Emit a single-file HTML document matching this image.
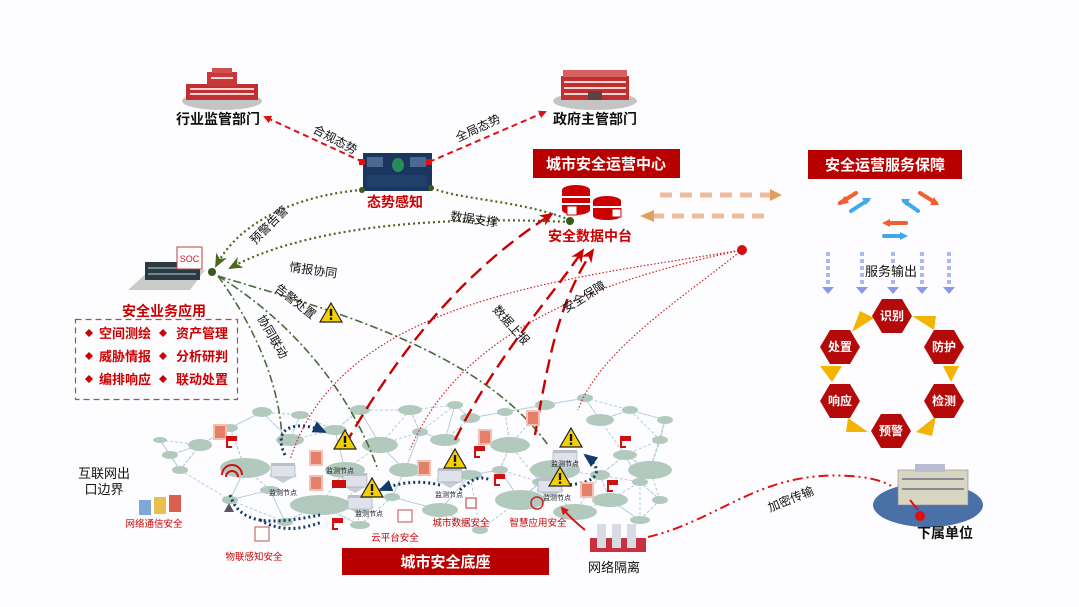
<!DOCTYPE html>
<html><head><meta charset="utf-8"><style>
html,body{margin:0;padding:0;background:#fdfdff;}
svg{display:block;font-family:"Liberation Sans","Noto Sans CJK SC",sans-serif;}
.b{font-weight:bold}
</style></head><body>
<svg id="s" width="1079" height="607" viewBox="0 0 1079 607" xmlns="http://www.w3.org/2000/svg">
<defs>
<marker id="ar" markerWidth="8" markerHeight="8" refX="6" refY="4" orient="auto" markerUnits="userSpaceOnUse"><path d="M0,0 L8,4 L0,8 Z" fill="#e01010"/></marker>
<marker id="arR" markerWidth="14" markerHeight="12" refX="12" refY="6" orient="auto" markerUnits="userSpaceOnUse"><path d="M0,0 L14,6 L0,12 L4,6 Z" fill="#c00"/></marker>
<marker id="arG" markerWidth="14" markerHeight="12" refX="12" refY="6" orient="auto" markerUnits="userSpaceOnUse"><path d="M0,0 L14,6 L0,12 L4,6 Z" fill="#4a6a1a"/></marker>
<marker id="arN" markerWidth="14" markerHeight="12" refX="12" refY="6" orient="auto" markerUnits="userSpaceOnUse"><path d="M0,0 L14,6 L0,12 Z" fill="#123a6a"/></marker>
<g id="warn"><path d="M0,-10 L11,9 L-11,9 Z" fill="#f5d000" stroke="#222" stroke-width="1.2"/><rect x="-1.2" y="-4" width="2.4" height="7" fill="#111"/><rect x="-1.2" y="4.5" width="2.4" height="2.4" fill="#111"/></g>
<g id="fw"><rect x="-6" y="-7" width="12" height="14" fill="#e4806a" stroke="#f4c0b0" stroke-width="2"/></g>
<g id="cam"><rect x="-6" y="-4" width="11" height="5" fill="#d01010"/><rect x="-6" y="1" width="2" height="6" fill="#d01010"/><rect x="-6" y="6" width="6" height="2" fill="#d01010"/></g>
<g id="bld"><path d="M-14,0 L0,-8 L14,0 L0,8 Z" fill="#c8ccd6"/><rect x="-12" y="-10" width="24" height="12" fill="#dfe2ea" stroke="#9aa" stroke-width="0.6"/><rect x="-12" y="-12" width="24" height="3" fill="#b9bfcc"/></g>
<g id="hex"><path d="M-20,0 L-10,-17 L10,-17 L20,0 L10,17 L-10,17 Z" fill="#b50a0a"/></g>
</defs>

<g id="net" stroke="#b4cce0" stroke-width="1" stroke-dasharray="3,2" fill="none"></g>
<g id="nodes" fill="#b2cabe"></g>

<!-- top buildings -->
<g>
<ellipse cx="222" cy="101" rx="40" ry="9" fill="#c4c4c4"/>
<rect x="186" y="84" width="72" height="16" fill="#c03030"/><rect x="207" y="72" width="30" height="14" fill="#c83838"/>
<rect x="212" y="68" width="20" height="5" fill="#d05050"/>
<g fill="#f4d4d4"><rect x="190" y="88" width="64" height="2"/><rect x="190" y="93" width="64" height="2"/><rect x="211" y="77" width="22" height="2"/></g>
<ellipse cx="595" cy="101" rx="42" ry="9" fill="#c4c4c4"/>
<rect x="561" y="76" width="68" height="24" fill="#c03030"/><rect x="563" y="70" width="64" height="7" fill="#d86060"/>
<g fill="#f4d4d4"><rect x="564" y="81" width="62" height="2"/><rect x="564" y="87" width="62" height="2"/><rect x="564" y="93" width="62" height="2"/></g>
<rect x="588" y="91" width="14" height="9" fill="#604040"/>
<text x="218" y="124" font-size="14" class="b" text-anchor="middle" fill="#111">行业监管部门</text>
<text x="595" y="124" font-size="14" class="b" text-anchor="middle" fill="#111">政府主管部门</text>
</g>

<rect x="363" y="153" width="69" height="38" fill="#1a3560"/>
<rect x="367" y="157" width="16" height="10" fill="#4a6a90"/><rect x="410" y="157" width="16" height="10" fill="#4a6a90"/>
<ellipse cx="398" cy="165" rx="6" ry="7" fill="#2a8a5a"/>
<rect x="367" y="175" width="60" height="12" fill="#20406a"/>
<text x="395" y="207" font-size="14" class="b" text-anchor="middle" fill="#c00">态势感知</text>

<path d="M363,162 L265,117" stroke="#e01010" stroke-width="2" stroke-dasharray="6,4" fill="none" marker-end="url(#ar)"/>
<path d="M429,162 L545,112" stroke="#e01010" stroke-width="2" stroke-dasharray="6,4" fill="none" marker-end="url(#ar)"/>
<rect x="359" y="159" width="6" height="6" fill="#e01010"/><rect x="426" y="159" width="6" height="6" fill="#e01010"/>
<text transform="translate(312,132) rotate(28)" font-size="12" fill="#111">合规态势</text>
<text transform="translate(458,142) rotate(-25)" font-size="12" fill="#111">全局态势</text>

<rect x="533" y="149" width="147" height="29" fill="#b80000"/>
<text x="606" y="169" font-size="15" class="b" text-anchor="middle" fill="#fff">城市安全运营中心</text>
<g fill="#c00">
<ellipse cx="576" cy="190" rx="14" ry="5"/><rect x="562" y="190" width="28" height="20"/><ellipse cx="576" cy="210" rx="14" ry="5"/>
<rect x="562" y="196" width="28" height="2" fill="#fff"/><rect x="562" y="203" width="28" height="2" fill="#fff"/>
<ellipse cx="607" cy="201" rx="14" ry="5"/><rect x="593" y="201" width="28" height="15"/><ellipse cx="607" cy="216" rx="14" ry="4"/>
<rect x="593" y="206" width="28" height="2" fill="#fff"/>
</g>
<rect x="567" y="206" width="10" height="9" fill="#fff" stroke="#c00"/><rect x="612" y="209" width="9" height="8" fill="#fff" stroke="#c00"/>
<text x="590" y="241" font-size="14" class="b" text-anchor="middle" fill="#c00">安全数据中台</text>

<path d="M660,195 L770,195" stroke="#e8a070" stroke-width="5" stroke-dasharray="12,8" fill="none" opacity="0.7"/>
<path d="M770,189 L782,195 L770,201 Z" fill="#e0a060"/>
<path d="M652,216 L768,216" stroke="#e8a070" stroke-width="5" stroke-dasharray="12,8" fill="none" opacity="0.7"/>
<path d="M654,210 L640,216 L654,222 Z" fill="#e0a060"/>

<rect x="808" y="150" width="154" height="29" fill="#b80000"/>
<text x="885" y="170" font-size="15" class="b" text-anchor="middle" fill="#fff">安全运营服务保障</text>
<g stroke-width="4" fill="none" stroke-linecap="round">
<path d="M856,193 L840,203" stroke="#f06030"/><path d="M837,205 L845,196 L849,203Z" fill="#f06030" stroke="none"/>
<path d="M851,211 L868,200" stroke="#40a8e8"/><path d="M871,198 L862,198 L866,205Z" fill="#40a8e8" stroke="none"/>
<path d="M918,211 L904,201" stroke="#40a8e8"/><path d="M901,199 L910,199 L906,206Z" fill="#40a8e8" stroke="none"/>
<path d="M920,193 L936,203" stroke="#f06030"/><path d="M939,205 L930,205 L934,197Z" fill="#f06030" stroke="none"/>
<path d="M906,223 L888,223" stroke="#f06030"/><path d="M882,223 L890,219 L890,227Z" fill="#f06030" stroke="none"/>
<path d="M884,236 L902,236" stroke="#40a8e8"/><path d="M908,236 L900,232 L900,240Z" fill="#40a8e8" stroke="none"/>
</g>
<g stroke="#a8b8f0" stroke-width="4" stroke-dasharray="4,3">
<path d="M828,252 V288"/><path d="M862,252 V288"/><path d="M893,252 V288"/><path d="M922,252 V288"/><path d="M949,252 V288"/>
</g>
<g fill="#8898e8"><path d="M822,287 h12 l-6,7z"/><path d="M856,287 h12 l-6,7z"/><path d="M887,287 h12 l-6,7z"/><path d="M916,287 h12 l-6,7z"/><path d="M943,287 h12 l-6,7z"/></g>
<rect x="864" y="263" width="56" height="16" fill="#fdfdff"/>
<text x="891" y="276" font-size="13" text-anchor="middle" fill="#111">服务输出</text>

<g fill="#f3b400">
<path d="M852,332 L874,318 L860,311 Z"/><path d="M912,316 L934,330 L936,316 Z"/>
<path d="M943,366 L959,366 L951,382 Z"/><path d="M936,416 L916,432 L932,436 Z"/>
<path d="M868,432 L848,418 L846,432 Z"/><path d="M832,382 L842,366 L820,366 Z"/>
</g>
<g fill="#fff" font-size="12" class="b" text-anchor="middle">
<use href="#hex" x="892" y="316"/><text x="892" y="320">识别</text>
<use href="#hex" x="944" y="347"/><text x="944" y="351">防护</text>
<use href="#hex" x="944" y="401"/><text x="944" y="405">检测</text>
<use href="#hex" x="891" y="431"/><text x="891" y="435">预警</text>
<use href="#hex" x="840" y="401"/><text x="840" y="405">响应</text>
<use href="#hex" x="840" y="347"/><text x="840" y="351">处置</text>
</g>

<path d="M128,290 L150,270 L205,270 L190,290 Z" fill="#c8ccc8"/>
<rect x="145" y="262" width="55" height="18" fill="#2a3a40"/>
<rect x="148" y="267" width="48" height="2" fill="#6a8a90"/><rect x="148" y="273" width="48" height="2" fill="#6a8a90"/>
<rect x="177" y="247" width="25" height="22" fill="#fff" stroke="#c04040" stroke-width="1"/>
<text x="189.5" y="262" font-size="9" text-anchor="middle" fill="#c02020">SOC</text>
<circle cx="212" cy="272" r="4" fill="#3a5a1a"/>
<text x="164" y="316" font-size="14" class="b" text-anchor="middle" fill="#c00">安全业务应用</text>
<rect x="75.5" y="319.5" width="162" height="80" fill="none" stroke="#a05050" stroke-width="1.2" stroke-dasharray="6,4"/>
<g fill="#c00" font-size="13" class="b">
<path d="M85,333 l4,-4 l4,4 l-4,4z"/><text x="99" y="338">空间测绘</text>
<path d="M159,333 l4,-4 l4,4 l-4,4z"/><text x="176" y="338">资产管理</text>
<path d="M85,356 l4,-4 l4,4 l-4,4z"/><text x="99" y="361">威胁情报</text>
<path d="M159,356 l4,-4 l4,4 l-4,4z"/><text x="176" y="361">分析研判</text>
<path d="M85,379 l4,-4 l4,4 l-4,4z"/><text x="99" y="384">编排响应</text>
<path d="M159,379 l4,-4 l4,4 l-4,4z"/><text x="176" y="384">联动处置</text>
</g>

<g stroke="#4a6a1a" stroke-width="2.2" stroke-dasharray="2,3" fill="none">
<path d="M362,190 C300,195 240,220 216,266" marker-end="url(#arG)"/>
<path d="M570,220 C520,200 460,200 432,188"/>
<path d="M570,222 C420,215 300,230 230,268" marker-end="url(#arG)"/>
</g>
<text transform="translate(255,245) rotate(-45)" font-size="12" fill="#111">预警告警</text>
<text x="450" y="220" font-size="12" fill="#111" transform="rotate(8 450 220)">数据支撑</text>
<text x="289" y="271" font-size="12" fill="#111" transform="rotate(8 289 271)">情报协同</text>
<circle cx="570" cy="221" r="4" fill="#3a5a1a"/><circle cx="431" cy="188" r="3" fill="#3a5a1a"/><circle cx="362" cy="190" r="3" fill="#3a5a1a"/>

<g stroke="#4a6a3a" stroke-width="1.6" stroke-dasharray="8,3,2,3" fill="none">
<path d="M218,276 C250,320 280,380 282,440"/>
<path d="M218,276 C290,320 350,390 378,470"/>
<path d="M218,276 C330,310 480,350 548,445"/>
</g>
<text transform="translate(274,290) rotate(38)" font-size="12" fill="#111">告警处置</text>
<use href="#warn" x="331" y="313"/>
<text transform="translate(257,318) rotate(60)" font-size="12" fill="#111">协同联动</text>

<circle cx="742" cy="250" r="5" fill="#d01010"/>
<g stroke="#d02020" stroke-width="1.2" stroke-dasharray="1.5,2" fill="none">
<path d="M742,250 C560,280 340,300 290,460"/>
<path d="M742,250 C600,280 460,330 410,450"/>
<path d="M742,250 C680,300 600,350 578,410"/>
</g>

<g stroke="#c80000" stroke-width="2.4" stroke-dasharray="14,7" fill="none">
<path d="M345,445 C410,330 480,260 552,214" marker-end="url(#arR)"/>
<path d="M455,440 C500,350 550,300 583,250" marker-end="url(#arR)"/>
<path d="M535,435 C550,350 560,300 593,250" marker-end="url(#arR)"/>
</g>
<text transform="translate(492,310) rotate(48)" font-size="12" fill="#111">数据上报</text>
<text transform="translate(566,313) rotate(-32)" font-size="12" fill="#111">安全保障</text>

<g stroke="#123a6a" stroke-width="3" stroke-dasharray="2,3" fill="none">
<path d="M285,455 C270,425 300,420 325,432" marker-end="url(#arN)"/>
<path d="M440,485 C420,480 400,482 380,490" marker-end="url(#arN)"/>
<path d="M460,490 C470,480 480,475 490,480"/>
<path d="M560,485 C600,485 605,470 585,455" marker-end="url(#arN)"/>
<path d="M230,495 C240,525 270,525 320,515"/>
<path d="M260,520 C280,532 300,530 322,522"/>
</g>

<use href="#bld" x="283" y="475"/><use href="#bld" x="355" y="485"/><use href="#bld" x="360" y="507"/>
<use href="#bld" x="450" y="480"/><use href="#bld" x="550" y="490"/><use href="#bld" x="565" y="462"/>
<use href="#fw" x="316" y="458"/><use href="#fw" x="316" y="483"/><use href="#fw" x="424" y="468"/>
<use href="#fw" x="485" y="437"/><use href="#fw" x="587" y="490"/><use href="#fw" x="533" y="418"/><use href="#fw" x="220" y="432"/>
<use href="#cam" x="232" y="440"/><use href="#cam" x="338" y="522"/><use href="#cam" x="480" y="450"/>
<use href="#cam" x="500" y="478"/><use href="#cam" x="626" y="440"/><use href="#cam" x="613" y="484"/>
<rect x="332" y="480" width="14" height="8" fill="#c81010"/>
<use href="#warn" x="345" y="440"/><use href="#warn" x="372" y="488"/><use href="#warn" x="455" y="459"/>
<use href="#warn" x="571" y="438"/><use href="#warn" x="560" y="477"/>
<g font-size="7" fill="#222" text-anchor="middle">
<text x="283" y="495">监测节点</text><text x="340" y="473">监测节点</text><text x="369" y="516">监测节点</text>
<text x="449" y="497">监测节点</text><text x="557" y="500">监测节点</text><text x="565" y="466">监测节点</text>
</g>
<path d="M222,475 a10,10 0 0 1 20,0" stroke="#d01010" stroke-width="2" fill="none"/>
<path d="M226,477 a6,6 0 0 1 12,0" stroke="#d01010" stroke-width="2" fill="none"/>
<rect x="466" y="498" width="10" height="10" fill="#fff" stroke="#c03030"/>
<rect x="398" y="510" width="14" height="12" fill="#fff" stroke="#c05050"/>
<circle cx="537" cy="503" r="6" fill="none" stroke="#d02020" stroke-width="1.5"/>
<rect x="255" y="527" width="14" height="14" fill="#fff" stroke="#c05050"/>
<path d="M229,503 L234,512 L224,512Z" fill="#556"/>

<text x="104" y="478" font-size="13" text-anchor="middle" fill="#111">互联网出</text>
<text x="104" y="494" font-size="13" text-anchor="middle" fill="#111">口边界</text>
<rect x="139" y="500" width="12" height="15" fill="#7fa8d8"/><rect x="154" y="497" width="12" height="17" fill="#e8c050"/><rect x="169" y="495" width="12" height="17" fill="#d86050"/>
<g font-size="9.5" fill="#c00" text-anchor="middle">
<text x="154" y="527">网络通信安全</text><text x="254" y="560">物联感知安全</text><text x="395" y="541">云平台安全</text>
<text x="461" y="526">城市数据安全</text><text x="538" y="526">智慧应用安全</text>
</g>
<rect x="342" y="548" width="207" height="27" fill="#b80000"/>
<text x="445.5" y="567" font-size="15" class="b" text-anchor="middle" fill="#fff">城市安全底座</text>

<rect x="590" y="538" width="56" height="14" fill="#c83040"/>
<rect x="597" y="524" width="9" height="24" fill="#d8dae4"/><rect x="612" y="524" width="9" height="24" fill="#d8dae4"/><rect x="627" y="524" width="9" height="24" fill="#d8dae4"/>
<text x="614" y="572" font-size="13" text-anchor="middle" fill="#111">网络隔离</text>
<path d="M585,530 C575,522 568,515 562,508" stroke="#e01010" stroke-width="2" fill="none" marker-end="url(#ar)"/>
<path d="M648,537 C720,520 760,470 850,476 C880,478 895,485 905,498" stroke="#e01010" stroke-width="2" stroke-dasharray="10,4,2,4,2,4" fill="none"/>
<text transform="translate(770,512) rotate(-22)" font-size="12" fill="#111">加密传输</text>

<ellipse cx="928" cy="505" rx="55" ry="22" fill="#4a70a8"/>
<rect x="898" y="470" width="70" height="35" fill="#d8d6c0" stroke="#889" stroke-width="0.6"/>
<rect x="915" y="464" width="30" height="8" fill="#b8bcd0"/>
<rect x="902" y="478" width="62" height="2" fill="#889"/><rect x="902" y="488" width="62" height="2" fill="#889"/>
<path d="M910,500 L918,510" stroke="#e01010" stroke-width="2"/><circle cx="920" cy="516" r="5" fill="#e01010"/>
<text x="945" y="538" font-size="14" class="b" text-anchor="middle" fill="#111">下属单位</text>
</svg>
<script>
(function(){
var N=[[245,468,25,10],[200,445,12,6],[290,440,14,6],[335,430,12,5],[380,445,18,8],[320,505,30,10],[405,470,16,7],[445,440,15,6],[470,418,10,5],[510,445,20,8],[555,470,25,10],[520,500,25,10],[440,510,18,7],[470,475,12,5],[600,420,14,6],[625,455,12,5],[650,470,22,9],[610,500,18,7],[575,512,22,8],[660,440,8,4],[640,482,8,4],[180,470,8,4],[170,455,8,4],[230,428,8,4],[262,412,10,5],[300,415,9,4],[360,410,10,5],[410,410,12,5],[455,405,8,4],[505,412,8,4],[545,405,10,5],[585,398,8,4],[630,410,8,4],[665,420,8,4],[230,500,8,4],[270,490,10,4],[360,525,10,4],[285,522,8,4],[480,530,8,4],[392,497,8,4],[540,482,8,4],[600,475,10,5],[660,500,8,4],[345,470,20,8],[420,432,8,4],[500,470,8,4],[640,520,10,4],[160,440,7,3]];
var ns="http://www.w3.org/2000/svg",net=document.getElementById("net"),nd=document.getElementById("nodes");
N.forEach(function(a,i){
 var d=N.map(function(b,j){return [Math.hypot(a[0]-b[0],a[1]-b[1]),j]}).filter(function(x){return x[1]!=i}).sort(function(x,y){return x[0]-y[0]});
 for(var k=0;k<3;k++){var b=N[d[k][1]];var l=document.createElementNS(ns,"line");l.setAttribute("x1",a[0]);l.setAttribute("y1",a[1]);l.setAttribute("x2",b[0]);l.setAttribute("y2",b[1]);net.appendChild(l);}
 var e=document.createElementNS(ns,"ellipse");e.setAttribute("cx",a[0]);e.setAttribute("cy",a[1]);e.setAttribute("rx",a[2]);e.setAttribute("ry",a[3]);nd.appendChild(e);
});
})();
</script>
</body></html>
